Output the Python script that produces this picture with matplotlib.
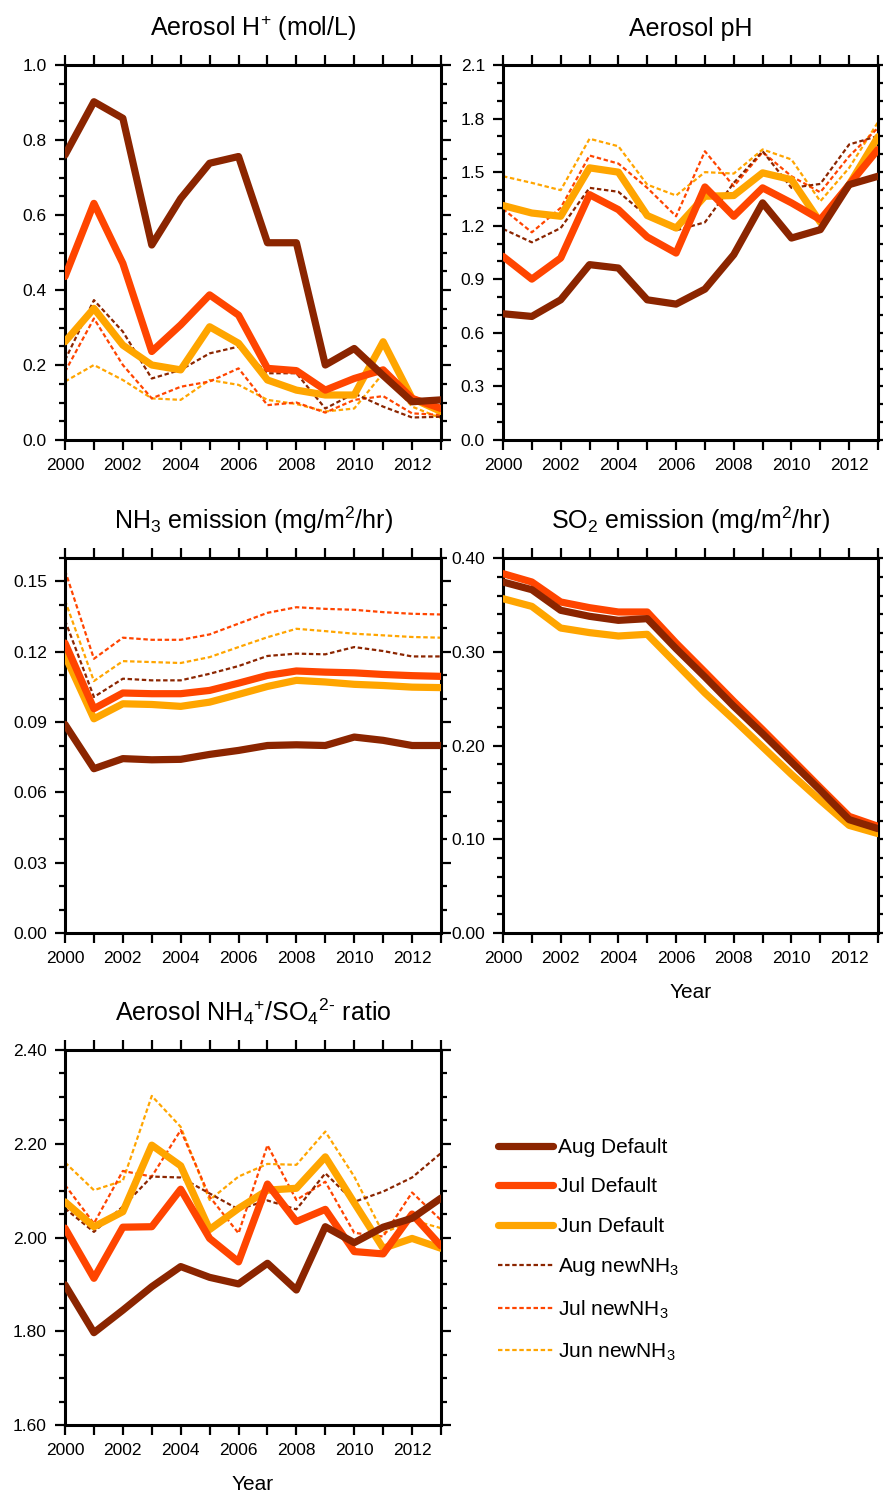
import matplotlib
matplotlib.use("Agg")
import matplotlib.pyplot as plt
from matplotlib.lines import Line2D
from matplotlib.ticker import MultipleLocator

plt.rcParams['font.family'] = ['Liberation Sans', 'DejaVu Sans']
plt.rcParams['mathtext.fontset'] = 'custom'
plt.rcParams['mathtext.rm'] = 'Liberation Sans'
plt.rcParams['mathtext.it'] = 'Liberation Sans'
plt.rcParams['mathtext.default'] = 'regular'

years = list(range(2000, 2014))
series_names = ["Aug Default", "Jul Default", "Jun Default",
                "Aug newNH$_3$", "Jul newNH$_3$", "Jun newNH$_3$"]

# Panel 1: Aerosol H+ (mol/L)
hplus_aug_def = [0.76, 0.902, 0.858, 0.52, 0.644, 0.738, 0.756, 0.526, 0.526, 0.20, 0.244, 0.172, 0.102, 0.107]
hplus_jul_def = [0.436, 0.631, 0.471, 0.236, 0.307, 0.387, 0.333, 0.191, 0.185, 0.133, 0.164, 0.187, 0.111, 0.084]
hplus_jun_def = [0.262, 0.351, 0.253, 0.200, 0.187, 0.302, 0.258, 0.160, 0.133, 0.120, 0.120, 0.262, 0.111, 0.076]
hplus_aug_new = [0.213, 0.373, 0.289, 0.164, 0.187, 0.231, 0.249, 0.178, 0.178, 0.084, 0.124, 0.089, 0.060, 0.062]
hplus_jul_new = [0.182, 0.324, 0.200, 0.111, 0.142, 0.156, 0.191, 0.093, 0.100, 0.073, 0.107, 0.117, 0.071, 0.067]
hplus_jun_new = [0.156, 0.200, 0.160, 0.111, 0.107, 0.160, 0.147, 0.107, 0.096, 0.076, 0.084, 0.178, 0.089, 0.058]

# Panel 2: Aerosol pH
ph_aug_def = [0.707, 0.692, 0.785, 0.982, 0.963, 0.785, 0.761, 0.845, 1.038, 1.328, 1.131, 1.178, 1.430, 1.477]
ph_jul_def = [1.028, 0.901, 1.019, 1.374, 1.290, 1.137, 1.047, 1.417, 1.253, 1.412, 1.328, 1.234, 1.430, 1.627]
ph_jun_def = [1.313, 1.271, 1.253, 1.524, 1.500, 1.257, 1.187, 1.365, 1.369, 1.496, 1.458, 1.219, 1.430, 1.698]
ph_aug_new = [1.182, 1.107, 1.187, 1.412, 1.390, 1.253, 1.174, 1.219, 1.440, 1.617, 1.412, 1.434, 1.655, 1.702]
ph_jul_new = [1.294, 1.163, 1.300, 1.593, 1.548, 1.412, 1.253, 1.617, 1.421, 1.612, 1.477, 1.387, 1.589, 1.748]
ph_jun_new = [1.477, 1.440, 1.399, 1.687, 1.645, 1.430, 1.369, 1.500, 1.492, 1.627, 1.571, 1.337, 1.524, 1.780]

# Panel 3: NH3 emission
nh3_aug_def = [0.0890, 0.0701, 0.0744, 0.0739, 0.0741, 0.0762, 0.0779, 0.0800, 0.0803, 0.0800, 0.0836, 0.0822, 0.0800, 0.0800]
nh3_jul_def = [0.1237, 0.0957, 0.1024, 0.1021, 0.1021, 0.1035, 0.1066, 0.1099, 0.1118, 0.1113, 0.1110, 0.1103, 0.1098, 0.1095]
nh3_jun_def = [0.1184, 0.0914, 0.0978, 0.0975, 0.0967, 0.0985, 0.1018, 0.1052, 0.1078, 0.1071, 0.1061, 0.1056, 0.1049, 0.1047]
nh3_aug_new = [0.1334, 0.1007, 0.1085, 0.1078, 0.1078, 0.1106, 0.1139, 0.1182, 0.1192, 0.1189, 0.1220, 0.1203, 0.1180, 0.1180]
nh3_jul_new = [0.1547, 0.1170, 0.1260, 0.1251, 0.1251, 0.1274, 0.1320, 0.1366, 0.1390, 0.1383, 0.1379, 0.1369, 0.1362, 0.1359]
nh3_jun_new = [0.1419, 0.1075, 0.1160, 0.1156, 0.1152, 0.1177, 0.1220, 0.1262, 0.1298, 0.1288, 0.1277, 0.1270, 0.1263, 0.1260]

# Panel 4: SO2 emission
so2_aug_def = [0.3744, 0.3662, 0.3442, 0.3378, 0.3335, 0.3353, 0.3033, 0.2731, 0.2418, 0.2126, 0.1824, 0.1522, 0.1209, 0.1113]
so2_jul_def = [0.3833, 0.3744, 0.3531, 0.3470, 0.3424, 0.3424, 0.3093, 0.2784, 0.2471, 0.2169, 0.1860, 0.1550, 0.1244, 0.1138]
so2_jun_def = [0.3566, 0.3484, 0.3253, 0.3204, 0.3168, 0.3186, 0.2873, 0.2560, 0.2276, 0.1984, 0.1692, 0.1415, 0.1148, 0.1060]

# Panel 5: NH4+/SO4 2- ratio
ratio_aug_def = [1.899, 1.797, 1.845, 1.895, 1.938, 1.915, 1.901, 1.945, 1.888, 2.023, 1.989, 2.022, 2.041, 2.084]
ratio_jul_def = [2.020, 1.913, 2.022, 2.023, 2.103, 1.998, 1.948, 2.114, 2.034, 2.060, 1.970, 1.965, 2.050, 1.982]
ratio_jun_def = [2.076, 2.023, 2.055, 2.197, 2.153, 2.017, 2.062, 2.101, 2.105, 2.172, 2.074, 1.977, 1.998, 1.977]
ratio_aug_new = [2.062, 2.012, 2.066, 2.130, 2.128, 2.094, 2.060, 2.079, 2.060, 2.137, 2.076, 2.098, 2.128, 2.180]
ratio_jul_new = [2.112, 2.030, 2.142, 2.130, 2.229, 2.087, 2.009, 2.197, 2.080, 2.119, 2.010, 2.002, 2.096, 2.037]
ratio_jun_new = [2.160, 2.101, 2.121, 2.302, 2.236, 2.080, 2.130, 2.157, 2.155, 2.226, 2.130, 2.009, 2.037, 2.020]

col_aug = "#8B2500"
col_jul = "#FF4500"
col_jun = "#FFA500"
colors = [col_aug, col_jul, col_jun]

W, H = 883, 1494
fig = plt.figure(figsize=(W / 100, H / 100), dpi=100)

def make_ax(x0, y0, x1, y1):
    return fig.add_axes([x0 / W, 1 - y1 / H, (x1 - x0) / W, (y1 - y0) / H])

def style(ax, ylim, major, minor, fmt, title, xlabel=None):
    ax.set_xlim(2000, 2013)
    ax.set_ylim(*ylim)
    ax.set_xticks(years)
    ax.set_xticklabels([str(y) if y % 2 == 0 else "" for y in years])
    ax.yaxis.set_major_locator(MultipleLocator(major))
    ax.yaxis.set_minor_locator(MultipleLocator(minor))
    ax.yaxis.set_major_formatter(matplotlib.ticker.FormatStrFormatter(fmt))
    ax.tick_params(which='both', direction='out', top=True, right=True,
                   width=1.6, labelsize=12.5, pad=6)
    ax.tick_params(which='major', length=7)
    ax.tick_params(which='minor', length=4)
    for s in ax.spines.values():
        s.set_linewidth(2.2)
    ax.set_title(title, fontsize=18, pad=21)
    if xlabel:
        ax.set_xlabel(xlabel, fontsize=15, labelpad=12)

def plot_set(ax, defaults, news):
    if news:
        for vals, c in zip(news[::-1], colors[::-1]):
            ax.plot(years, vals, color=c, lw=1.6, ls=(0, (2, 1.2)), zorder=2)
    for vals, c in zip(defaults[::-1], colors[::-1]):
        ax.plot(years, vals, color=c, lw=5.2, solid_capstyle='round',
                solid_joinstyle='round', zorder=3)

ax1 = make_ax(65, 65, 441, 440)
plot_set(ax1, [hplus_aug_def, hplus_jul_def, hplus_jun_def],
         [hplus_aug_new, hplus_jul_new, hplus_jun_new])
style(ax1, (0, 1.0), 0.2, 0.05, '%.1f', r'Aerosol H$^{+}$ (mol/L)')

ax2 = make_ax(503, 65, 878, 440)
plot_set(ax2, [ph_aug_def, ph_jul_def, ph_jun_def],
         [ph_aug_new, ph_jul_new, ph_jun_new])
style(ax2, (0, 2.1), 0.3, 0.1, '%.1f', 'Aerosol pH')

ax3 = make_ax(65, 558, 441, 933)
plot_set(ax3, [nh3_aug_def, nh3_jul_def, nh3_jun_def],
         [nh3_aug_new, nh3_jul_new, nh3_jun_new])
style(ax3, (0, 0.16), 0.03, 0.01, '%.2f', r'NH$_3$ emission (mg/m$^2$/hr)')

ax4 = make_ax(503, 558, 878, 933)
plot_set(ax4, [so2_aug_def, so2_jul_def, so2_jun_def], None)
style(ax4, (0, 0.4), 0.1, 0.02, '%.2f', r'SO$_2$ emission (mg/m$^2$/hr)', 'Year')

ax5 = make_ax(65, 1050, 441, 1425)
plot_set(ax5, [ratio_aug_def, ratio_jul_def, ratio_jun_def],
         [ratio_aug_new, ratio_jul_new, ratio_jun_new])
style(ax5, (1.6, 2.4), 0.2, 0.05, '%.2f',
      r'Aerosol NH$_4{}^{+}$/SO$_4{}^{2\text{-}}$ ratio', 'Year')

handles = [Line2D([], [], color=c, lw=5.2, solid_capstyle='round') for c in colors]
handles += [Line2D([], [], color=c, lw=1.6, ls=(0, (2, 1.2))) for c in colors]
fig.legend(handles, series_names, loc='upper left',
           bbox_to_anchor=(498 / W, 1 - 1138 / H), frameon=False,
           fontsize=15, handlelength=2.65, handletextpad=0.25,
           labelspacing=0.98, borderpad=0, borderaxespad=0)

fig.savefig("out.png", dpi=100)
